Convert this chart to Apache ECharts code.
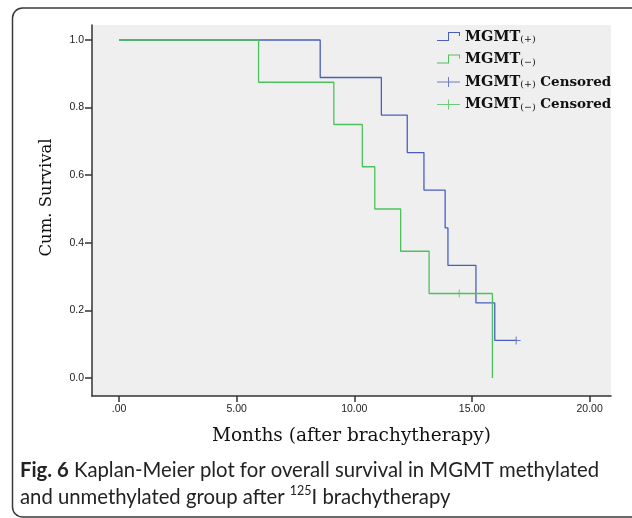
<!DOCTYPE html>
<html>
<head>
<meta charset="utf-8">
<script src="https://cdn.jsdelivr.net/npm/echarts@6/dist/echarts.min.js"></script>
<style>
html,body{margin:0;padding:0;background:#fff;}
#chart{width:632px;height:518px;}
</style>
</head>
<body>
<div id="chart"></div>
<script>
// ---- data ----
var posTime = [0, 8.55, 11.15, 12.25, 12.96, 13.86, 13.98, 15.17, 15.97, 16.88];
var posSurv = [1, 0.889, 0.778, 0.667, 0.556, 0.444, 0.333, 0.222, 0.111, 0.111];
var negTime = [0, 5.93, 9.13, 10.34, 10.87, 11.97, 13.18, 15.87];
var negSurv = [1, 0.875, 0.75, 0.625, 0.5, 0.375, 0.25, 0];
var posCensTime = [16.88];
var posCensSurv = [0.111];
var negCensTime = [14.46];
var negCensSurv = [0.25];
var xTickValues = [0, 5, 10, 15, 20];
var xTickLabels = ['.00', '5.00', '10.00', '15.00', '20.00'];
var yTickValues = [0, 0.2, 0.4, 0.6, 0.8, 1.0];
var yTickLabels = ['0.0', '0.2', '0.4', '0.6', '0.8', '1.0'];
var seriesNames = ['MGMT(+)', 'MGMT(\u2212)', 'MGMT(+) Censored', 'MGMT(\u2212) Censored'];

function zip(a, b) { return a.map(function (v, i) { return [v, b[i]]; }); }

var BLUE = '#4a5ec0';
var GREEN = '#4cc25c';
var stepIcon = 'path://M0,8 L11,8 L11,0 L23,0 L23,4 L22,4 L22,1 L12,1 L12,9 L0,9 Z M0,10 L0,10 Z';
var plusIcon = 'path://M0,4.5 L11,4.5 L11,0 L12,0 L12,4.5 L23,4.5 L23,5.5 L12,5.5 L12,10 L11,10 L11,5.5 L0,5.5 Z';
var plusMark = 'path://M0,3.5 L4,3.5 L4,0 L5,0 L5,3.5 L9,3.5 L9,4.5 L5,4.5 L5,8 L4,8 L4,4.5 L0,4.5 Z';

var chart = echarts.init(document.getElementById('chart'), null, {renderer: 'canvas'});
var option = {
  animation: false,
  backgroundColor: '#ffffff',
  graphic: [{
    type: 'rect',
    shape: {x: 12.5, y: 8, width: 640, height: 509, r: 10},
    style: {fill: 'none', stroke: '#3a3a3a', lineWidth: 1.5},
    z: -1
  }],
  title: {
    left: 15,
    top: 452,
    text: '{b|Fig. 6} Kaplan-Meier plot for overall survival in MGMT methylated\nand unmethylated group after {sup|125}I brachytherapy',
    textStyle: {
      fontFamily: 'Lato', fontSize: 20.3, fontWeight: 'normal', color: '#222', lineHeight: 27,
      rich: {
        b: {fontFamily: 'Lato', fontSize: 20.3, fontWeight: 'bold', color: '#222', lineHeight: 27},
        sup: {fontFamily: 'Lato', fontSize: 12.5, color: '#222', lineHeight: 14, verticalAlign: 'top'}
      }
    }
  },
  grid: {
    left: 92, right: 21, top: 25, bottom: 122,
    show: true, backgroundColor: '#efefef', borderWidth: 0
  },
  legend: {
    orient: 'vertical',
    left: 432, top: 24,
    itemWidth: 23, itemHeight: 10,
    itemGap: 6.5,
    selectedMode: false,
    data: [
      {name: seriesNames[0], icon: stepIcon, itemStyle: {color: BLUE, borderWidth: 0}},
      {name: seriesNames[1], icon: stepIcon, itemStyle: {color: GREEN, borderWidth: 0}},
      {name: seriesNames[2], icon: plusIcon, itemStyle: {color: BLUE, borderWidth: 0}},
      {name: seriesNames[3], icon: plusIcon, itemStyle: {color: GREEN, borderWidth: 0}}
    ],
    formatter: function (name) {
      var sign = name.indexOf('+') >= 0 ? '(+)' : '(\u2212)';
      var s = '{a|MGMT}{s|' + sign + '}';
      if (name.indexOf('Censored') >= 0) s += '{c| Censored}';
      return s;
    },
    textStyle: {
      fontFamily: 'DejaVu Serif', color: '#111', fontSize: 14.5, lineHeight: 16,
      rich: {
        a: {fontFamily: 'DejaVu Serif', fontWeight: 'bold', fontSize: 14.5, lineHeight: 16, color: '#111'},
        s: {fontFamily: 'DejaVu Serif', fontSize: 9.5, lineHeight: 9, verticalAlign: 'bottom', color: '#111'},
        c: {fontFamily: 'DejaVu Serif', fontWeight: 'bold', fontSize: 13.5, lineHeight: 16, color: '#111'}
      }
    }
  },
  xAxis: {
    type: 'value',
    min: -1.149, max: 20.91,
    name: 'Months (after brachytherapy)',
    nameLocation: 'middle', nameGap: 31,
    nameTextStyle: {fontFamily: 'DejaVu Serif', fontSize: 18.5, color: '#111'},
    axisLine: {onZero: false, lineStyle: {color: '#333', width: 1.5}},
    axisTick: {show: true, customValues: xTickValues, length: 6, lineStyle: {color: '#333', width: 1.5}},
    axisLabel: {
      customValues: xTickValues, margin: 8,
      fontFamily: 'Liberation Sans', fontSize: 10.5, color: '#222',
      formatter: function (v) { var i = xTickValues.indexOf(v); return i >= 0 ? xTickLabels[i] : ''; }
    },
    splitLine: {show: false}
  },
  yAxis: {
    type: 'value',
    min: -0.0533, max: 1.0444,
    name: 'Cum. Survival',
    nameLocation: 'middle', nameGap: 37, nameRotate: 90,
    nameTextStyle: {fontFamily: 'DejaVu Serif', fontSize: 16.5, color: '#111', padding: [0, 0, 0, 26]},
    axisLine: {onZero: false, lineStyle: {color: '#333', width: 1.5}},
    axisTick: {show: true, customValues: yTickValues, length: 7, lineStyle: {color: '#333', width: 1.5}},
    axisLabel: {
      customValues: yTickValues, margin: 8,
      fontFamily: 'Liberation Sans', fontSize: 10.5, color: '#222',
      formatter: function (v) {
        for (var i = 0; i < yTickValues.length; i++) { if (Math.abs(yTickValues[i] - v) < 1e-6) return yTickLabels[i]; }
        return '';
      }
    },
    splitLine: {show: false}
  },
  series: [
    {
      name: seriesNames[0], type: 'line', step: 'end', symbol: 'none',
      data: zip(posTime, posSurv),
      lineStyle: {color: BLUE, width: 1.3}, itemStyle: {color: BLUE}
    },
    {
      name: seriesNames[1], type: 'line', step: 'end', symbol: 'none',
      data: zip(negTime, negSurv),
      lineStyle: {color: GREEN, width: 1.3}, itemStyle: {color: GREEN}
    },
    {
      name: seriesNames[2], type: 'scatter', symbol: plusMark, symbolSize: [9, 8],
      data: zip(posCensTime, posCensSurv),
      itemStyle: {color: BLUE}
    },
    {
      name: seriesNames[3], type: 'scatter', symbol: plusMark, symbolSize: [9, 8],
      data: zip(negCensTime, negCensSurv),
      itemStyle: {color: GREEN}
    }
  ]
};
chart.setOption(option);
</script>
</body>
</html>
